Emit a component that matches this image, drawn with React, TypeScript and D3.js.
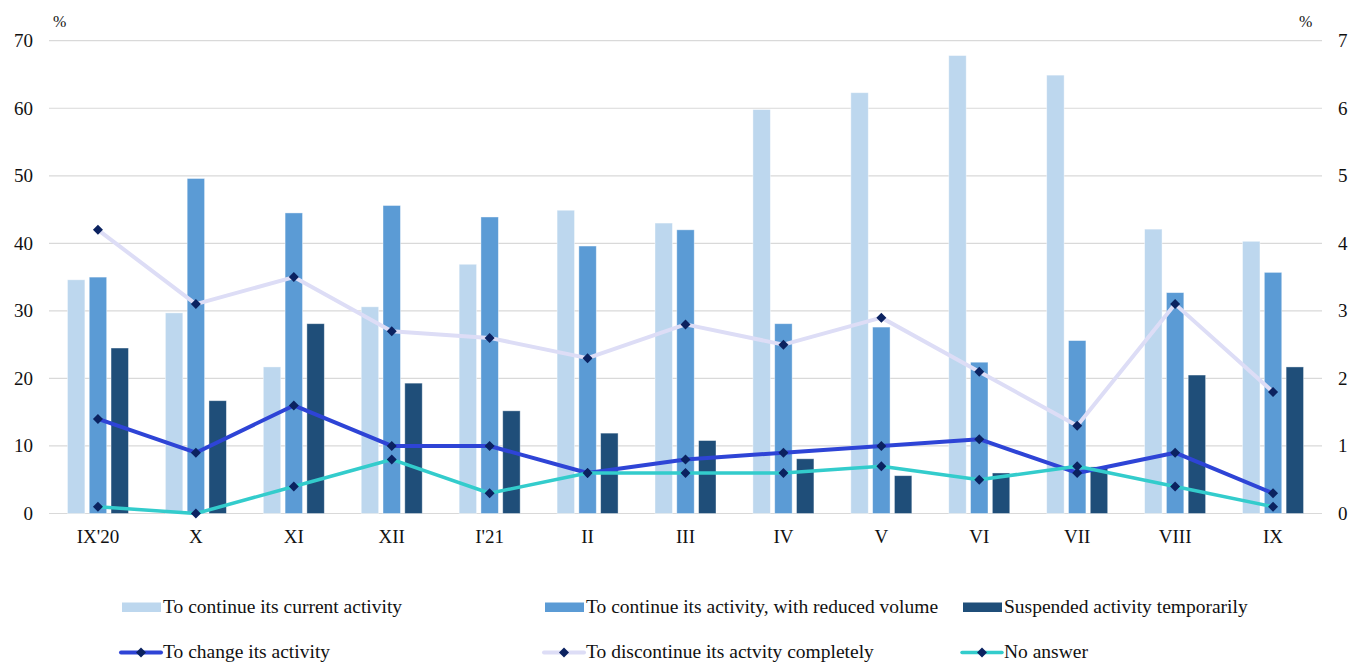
import React from "react";
import * as d3 from "d3";

const categories = ["IX'20", "X", "XI", "XII", "I'21", "II", "III", "IV", "V", "VI", "VII", "VIII", "IX"];
const continueCurrent = [34.6, 29.7, 21.7, 30.6, 36.9, 44.9, 43.0, 59.8, 62.3, 67.8, 64.9, 42.1, 40.3];
const continueReduced = [35.0, 49.6, 44.5, 45.6, 43.9, 39.6, 42.0, 28.1, 27.6, 22.4, 25.6, 32.7, 35.7];
const suspended = [24.5, 16.7, 28.1, 19.3, 15.2, 11.9, 10.8, 8.1, 5.6, 6.0, 6.9, 20.5, 21.7];
const changeActivity = [1.4, 0.9, 1.6, 1.0, 1.0, 0.6, 0.8, 0.9, 1.0, 1.1, 0.6, 0.9, 0.3];
const discontinue = [4.2, 3.1, 3.5, 2.7, 2.6, 2.3, 2.8, 2.5, 2.9, 2.1, 1.3, 3.1, 1.8];
const noAnswer = [0.1, 0.0, 0.4, 0.8, 0.3, 0.6, 0.6, 0.6, 0.7, 0.5, 0.7, 0.4, 0.1];
const leftTicks = [0, 10, 20, 30, 40, 50, 60, 70];
const rightTicks = [0, 1, 2, 3, 4, 5, 6, 7];

const barSeries = [
  { name: "To continue its current activity", values: continueCurrent, color: "#BDD7EE" },
  { name: "To continue its activity, with reduced volume", values: continueReduced, color: "#5B9BD5" },
  { name: "Suspended activity temporarily", values: suspended, color: "#1F4E79" },
];
const lineSeries = [
  { name: "To change its activity", values: changeActivity, color: "#2E44D6", width: 4 },
  { name: "To discontinue its actvity completely", values: discontinue, color: "#DDDDF6", width: 4 },
  { name: "No answer", values: noAnswer, color: "#33CCCC", width: 3.5 },
];

const W = 1352;
const H = 663;
const left = 49;
const right = 1322;
const top = 40.7;
const bottom = 513.5;
const font = "'Liberation Serif', 'Times New Roman', serif";
const markerColor = "#0B2260";
const textColor = "#111";

function Diamond({ x, y, r = 5 }: { x: number; y: number; r?: number }) {
  return <path d={`M${x},${y - r}L${x + r},${y}L${x},${y + r}L${x - r},${y}Z`} fill={markerColor} />;
}

export default function App() {
  const x = d3.scaleBand<string>().domain(categories).range([left, right]).paddingInner(0).paddingOuter(0);
  const inner = d3
    .scaleBand<string>()
    .domain(barSeries.map((s) => s.name))
    .range([-30.5, 30.5])
    .paddingInner(0.2)
    .paddingOuter(0);
  const yL = d3.scaleLinear().domain([0, 70]).range([bottom, top]);
  const yR = d3.scaleLinear().domain([0, 7]).range([bottom, top]);
  const cx = (c: string) => (x(c) as number) + x.bandwidth() / 2;

  const legendRows = [
    { y: 612.5, items: barSeries.map((s, i) => ({ kind: "bar", s, i })) },
    { y: 658, items: lineSeries.map((s, i) => ({ kind: "line", s, i })) },
  ];
  const legendX = [122, 545, 963];
  const ts = { fontFamily: font };

  return (
    <svg width={W} height={H} style={{ position: "absolute", left: 0, top: 0, background: "#fff" }}>
      <rect x={0} y={0} width={W} height={H} fill="#fff" />
      {leftTicks.map((t) => (
        <line key={"g" + t} x1={left} x2={right} y1={yL(t)} y2={yL(t)} stroke="#D9D9D9" strokeWidth={1.2} />
      ))}
      {leftTicks.map((t) => (
        <text key={"l" + t} x={33} y={yL(t) + 6.5} textAnchor="end" fontSize={19} fill={textColor} style={ts}>
          {t}
        </text>
      ))}
      {rightTicks.map((t) => (
        <text key={"r" + t} x={1338} y={yR(t) + 6.5} textAnchor="start" fontSize={19} fill={textColor} style={ts}>
          {t}
        </text>
      ))}
      <text x={53} y={27} fontSize={16} fill={textColor} style={ts}>%</text>
      <text x={1299} y={27} fontSize={16} fill={textColor} style={ts}>%</text>
      {categories.map((c) => (
        <text key={"x" + c} x={cx(c)} y={542.5} textAnchor="middle" fontSize={19} fill={textColor} style={ts}>
          {c}
        </text>
      ))}
      {barSeries.map((s) =>
        s.values.map((v, i) => {
          const bx = cx(categories[i]) + (inner(s.name) as number);
          return (
            <rect
              key={s.name + i}
              x={bx}
              y={yL(v)}
              width={inner.bandwidth()}
              height={yL(0) - yL(v)}
              fill={s.color}
              stroke="#ffffff"
              strokeOpacity={0.5}
              strokeWidth={0.8}
            />
          );
        })
      )}
      {lineSeries.map((s) => {
        const line = d3
          .line<number>()
          .x((_, i) => cx(categories[i]))
          .y((v) => yR(v));
        return (
          <g key={s.name}>
            <path d={line(s.values) || ""} fill="none" stroke={s.color} strokeWidth={s.width} strokeLinejoin="round" />
            {s.values.map((v, i) => (
              <Diamond key={i} x={cx(categories[i])} y={yR(v)} />
            ))}
          </g>
        );
      })}
      {legendRows.map((row, ri) =>
        row.items.map((it: any) => {
          const lx = legendX[it.i];
          const my = row.y - 5.5;
          return (
            <g key={ri + "-" + it.i}>
              {it.kind === "bar" ? (
                <rect x={lx} y={my - 4.5} width={39} height={9.5} fill={it.s.color} />
              ) : (
                <g>
                  <line x1={lx - 1} x2={lx + 39} y1={my} y2={my} stroke={it.s.color} strokeWidth={it.s.width} strokeLinecap="round" />
                  <Diamond x={lx + 19} y={my} />
                </g>
              )}
              <text x={lx + 41} y={row.y} fontSize={19.5} fill={textColor} style={ts}>
                {it.s.name}
              </text>
            </g>
          );
        })
      )}
    </svg>
  );
}
